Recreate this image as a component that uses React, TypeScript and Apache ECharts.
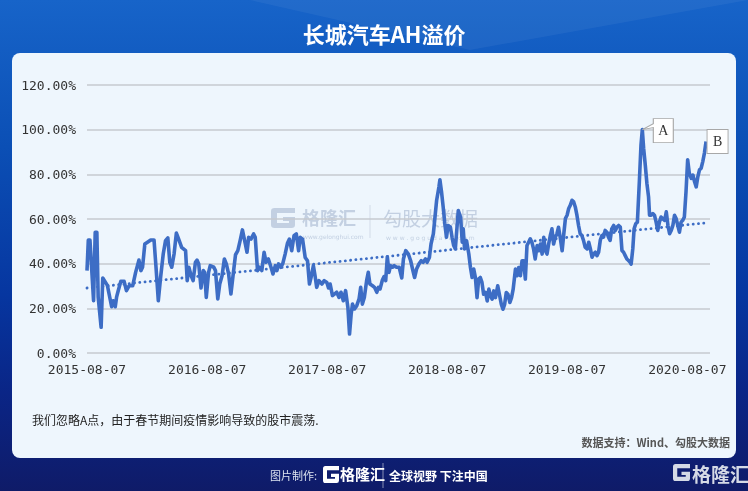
import React, { useEffect, useRef } from "react";
import * as echarts from "echarts";

const titleText = "长城汽车AH溢价";
const noteText = "我们忽略A点，由于春节期间疫情影响导致的股市震荡.";
const sourceText = "数据支持：Wind、勾股大数据";
const footerLabel = "图片制作:";
const footerSlogan = "全球视野 下注中国";
const brandName = "格隆汇";
const brandUrl = "www.gelonghui.com";
const partnerName = "勾股大数据";
const partnerUrl = "www.gogudata.com";

const startDate = "2015-08-07";
const endDate = "2020-10-15";
const xTickLabels = ["2015-08-07", "2016-08-07", "2017-08-07", "2018-08-07", "2019-08-07", "2020-08-07"];

// days after 2015-08-07
const dayOffsets = [
  0, 4, 9, 20, 25, 30, 34, 43, 48, 62, 75, 80, 86, 90, 95, 103, 113, 120, 128, 139, 148, 158, 164, 169, 176, 184, 194, 204,
  210, 217, 224, 232, 239, 246, 252, 258, 265, 272, 279, 288, 300, 305, 310, 317, 323, 330, 335, 340, 347, 354, 358, 363,
  370, 375, 386, 391, 398, 404, 411, 418, 424, 431, 438, 445, 452, 459, 466, 473,
  482, 487, 492, 499, 507, 512, 519, 525, 532, 539, 545, 552, 560, 566, 573, 578, 583, 590, 596, 603, 610, 616, 623, 630,
  637, 644, 649, 656, 664, 671, 677, 682, 689, 694, 699, 706, 715, 722, 730, 735, 740, 747, 753, 760, 767, 773, 780, 787,
  794, 799, 804, 808, 814, 821, 828, 833, 838, 844, 851, 856, 861, 869, 875, 882, 887, 892, 899, 904, 909, 914, 919, 924,
  930, 935, 942, 950, 958, 963, 970,
  978, 985, 992, 997, 1003, 1010, 1017, 1023, 1030, 1035, 1042, 1047, 1054, 1059, 1064, 1071, 1074, 1079, 1084, 1089, 1094,
  1099, 1106, 1111, 1116, 1121, 1126, 1130, 1137, 1142, 1145, 1149, 1155, 1162, 1167, 1172, 1177, 1182, 1187, 1192, 1197,
  1202, 1207, 1213, 1218, 1223, 1228, 1233, 1238, 1243, 1250, 1255, 1261, 1266, 1271, 1276, 1281, 1287, 1292, 1297, 1304,
  1309, 1314, 1319, 1324, 1329, 1334, 1339, 1344, 1349, 1354, 1359, 1364, 1370, 1375, 1380, 1385, 1390, 1395, 1400, 1405,
  1410, 1415, 1420, 1425, 1430, 1435, 1440, 1446, 1451,
  1456, 1461, 1466, 1471, 1476, 1481, 1486, 1491, 1496, 1501, 1506, 1511, 1516, 1522, 1527, 1532, 1537, 1542, 1547, 1552,
  1557, 1562, 1567, 1572, 1577, 1582, 1587, 1592, 1597, 1603, 1608, 1613, 1618, 1623, 1628, 1633, 1638, 1643, 1648, 1653,
  1656, 1661, 1665, 1670, 1675, 1681, 1686, 1690, 1694, 1699, 1704, 1709, 1712, 1717, 1722, 1727, 1732, 1737, 1742, 1747,
  1752, 1758, 1763, 1768, 1773, 1778, 1783, 1788, 1793, 1798, 1803, 1808, 1813, 1818, 1823, 1828, 1833, 1839, 1844, 1849,
  1854, 1859, 1864, 1869, 1874, 1879, 1884,
];

// AH premium, %
const premium = [
  36.9, 50.6, 50.6, 23.4, 54.0, 54.0, 25.0, 11.5, 33.6, 30.3, 20.7, 23.4, 20.7, 25.0, 27.9, 32.1, 32.1, 27.9, 30.1, 30.1,
  36.1, 41.6, 36.9, 38.4, 48.8, 49.6, 50.6, 50.6,
  38.4, 23.4, 33.9, 44.3, 50.3, 51.5, 40.6, 38.4, 44.3, 53.7, 51.0, 47.3, 45.8, 32.4, 38.4, 34.6, 32.4, 40.6, 41.6, 39.9,
  29.1, 36.9, 36.1, 24.9,
  36.1, 39.1, 38.4, 36.9, 24.2, 30.9, 34.6, 42.1, 39.9, 35.4, 26.4, 35.4, 44.0, 45.8, 50.3, 55.1,
  48.8, 45.1, 51.8, 51.0, 53.3, 51.8, 36.9, 38.4, 36.9, 45.1, 40.6, 42.1, 38.4, 35.4, 39.1, 36.9, 39.9, 38.4, 40.1, 44.3,
  49.1, 51.0, 45.8, 52.5,
  53.3, 45.8, 51.8, 51.0, 42.8, 41.3, 30.9, 33.9, 39.1, 34.6, 29.4, 32.4, 30.9, 32.4, 31.6, 29.1, 30.9, 25.7, 26.4, 27.2,
  24.9, 27.2, 23.4, 27.9,
  20.4, 8.5, 17.5, 21.9, 19.7, 21.2, 24.2, 29.4, 21.9, 24.9, 32.4, 36.1, 30.9, 30.1, 29.4, 27.2, 29.4, 28.7, 32.7, 34.2,
  32.4, 43.1, 36.1, 39.1,
  38.4, 39.1, 38.4, 38.4, 33.6, 42.1, 45.8,
  44.3, 41.3, 36.8, 33.8, 37.6, 39.8, 41.3, 40.6, 42.1, 40.6, 42.8, 48.8, 53.3, 60.8, 68.3, 74.3, 77.6, 72.1, 65.3, 57.8,
  51.8,
  57.1, 56.3, 51.8, 48.1, 46.6, 56.3, 63.8, 60.8, 49.6, 55.6, 46.6, 50.3, 44.3, 38.3, 33.8, 37.6, 33.8, 24.8, 33.1, 33.8,
  31.6, 26.3, 27.1, 23.3, 28.6, 25.6, 24.1, 27.8, 24.8, 30.1, 26.3, 21.8, 19.6, 21.8, 27.1, 26.3, 22.6, 24.8, 28.6, 37.6,
  34.6, 38.3, 34.6, 41.3, 41.3, 33.1, 48.1, 49.6, 51.1, 49.6, 46.6, 42.1, 48.1, 45.8, 48.8, 44.3, 51.8, 45.8, 44.3, 48.8,
  52.6, 55.6, 48.8, 51.8, 53.3, 56.3, 51.8, 45.8, 53.3,
  60.2, 61.7, 64.7, 66.2, 68.4, 67.7, 65.4, 61.7, 57.1, 53.4, 52.6, 50.4, 47.4, 46.6, 49.6, 46.6, 42.9, 44.4, 45.1, 43.6,
  45.1, 50.4, 52.6, 51.9, 54.9, 54.1, 51.9, 50.4, 55.6, 57.1, 54.9, 56.4, 57.1, 56.4, 45.9, 45.1, 43.6, 42.1, 41.4, 40.6,
  39.8, 46.6, 55.6, 57.9, 58.6, 76.7, 93.2, 100.0, 91.7, 84.2, 75.9, 69.9, 61.7, 61.7, 62.4, 61.7, 58.6, 54.9, 58.6, 60.9,
  60.2, 59.4, 63.2, 57.1, 53.4, 54.9, 57.1, 61.7, 60.2, 57.1, 54.1, 58.6, 59.4, 60.9, 72.2, 86.5, 80.5, 78.2, 79.7, 76.7,
  74.4, 78.9, 82.0, 82.7, 85.7, 89.5, 94.7,
];

// linear trend line end points
const trendDays = [0, 1884];
const trendValues = [29.1, 58.3];

const DAY = 86400000;
const LINE_BLUE = "#3d6dc5";
const CJK = '"Noto Sans CJK SC"';
const G_PATH = "M20 0H3Q0 0 0 3V17Q0 20 3 20H17Q20 20 20 17V9H10V13H15V15H5V5H20Z";

let registered = false;
function registerLogo() {
  if (registered) return;
  echarts.graphic.registerShape("glogo", echarts.graphic.extendPath(G_PATH, {}));
  registered = true;
}

const toTs = (s: string) => {
  const [y, m, d] = s.split("-").map(Number);
  return Date.UTC(y, m - 1, d);
};
const fmtDate = (v: number) => new Date(v).toISOString().slice(0, 10);

export default function App() {
  const ref = useRef<HTMLDivElement>(null);

  useEffect(() => {
    if (!ref.current) return;
    registerLogo();
    const chart = echarts.init(ref.current, null, { renderer: "svg", width: 748, height: 491 });
    const t0 = toTs(startDate);
    const mainData = dayOffsets.map((d, i) => [t0 + d * DAY, premium[i]]);
    const trendData = trendDays.map((d, i) => [t0 + d * DAY, trendValues[i]]);

    let maxIdx = 0;
    premium.forEach((v, i) => {
      if (v > premium[maxIdx]) maxIdx = i;
    });
    const lastIdx = premium.length - 1;

    const wmColor = "#c3d0e2";

    const option: any = {
      animation: false,
      grid: { left: 87, right: 38, top: 85, bottom: 138 },
      xAxis: {
        type: "value",
        min: t0,
        max: toTs(endDate),
        axisLine: { show: false },
        axisTick: { show: false },
        splitLine: { show: false },
        axisLabel: {
          customValues: xTickLabels.map(toTs),
          formatter: (v: number) => fmtDate(v),
          color: "#333",
          fontFamily: "DejaVu Sans Mono",
          fontSize: 13,
          margin: 10,
          hideOverlap: false,
        },
      },
      yAxis: {
        type: "value",
        min: 0,
        max: 120,
        interval: 20,
        axisLine: { show: false },
        axisTick: { show: false },
        axisLabel: {
          formatter: (v: number) => v.toFixed(2) + "%",
          color: "#333",
          fontFamily: "DejaVu Sans Mono",
          fontSize: 13,
          margin: 11,
        },
        splitLine: { lineStyle: { color: "#c6cacf", width: 1.5 } },
      },
      graphic: [
        {
          type: "rect",
          z: -20,
          silent: true,
          shape: { x: 0, y: 0, width: 748, height: 491 },
          style: {
            fill: new echarts.graphic.LinearGradient(0, 0, 0, 1, [
              { offset: 0, color: "#1764c9" },
              { offset: 0.3, color: "#0b4fb5" },
              { offset: 0.6, color: "#0636a0" },
              { offset: 0.8, color: "#0a2586" },
              { offset: 1, color: "#0f1b68" },
            ]),
          },
        },
        {
          type: "polygon",
          z: -19,
          silent: true,
          shape: { points: [[250, 0], [470, 50], [748, 0]] },
          style: { fill: "rgba(255,255,255,0.05)" },
        },
        {
          type: "rect",
          z: -18,
          silent: true,
          shape: { x: 12, y: 53, width: 724, height: 405, r: 8 },
          style: { fill: "#eef6fd" },
        },
        {
          type: "text",
          x: 384,
          y: 33,
          style: {
            text: titleText,
            fill: "#ffffff",
            font: `bold 22px ${CJK}`,
            align: "center",
            verticalAlign: "middle",
          },
        },
        // watermark
        { type: "glogo", x: 271, y: 208, scaleX: 1.2, scaleY: 1.0, z: -5, style: { fill: wmColor } },
        {
          type: "text", x: 302, y: 217, z: -5,
          style: { text: brandName, fill: wmColor, font: `bold 18px ${CJK}`, verticalAlign: "middle" },
        },
        {
          type: "text", x: 303, y: 236, z: -5,
          style: { text: brandUrl, fill: wmColor, font: `6px "DejaVu Sans"`, verticalAlign: "middle" },
        },
        { type: "line", z: -5, shape: { x1: 370, y1: 205, x2: 370, y2: 238 }, style: { stroke: "#d2dbe8", lineWidth: 1 } },
        {
          type: "text", x: 383, y: 217, z: -5,
          style: { text: partnerName, fill: wmColor, font: `19px ${CJK}`, verticalAlign: "middle" },
        },
        {
          type: "text", x: 386, y: 237, z: -5,
          style: { text: partnerUrl.split("").join(" "), fill: wmColor, font: `6px "DejaVu Sans"`, verticalAlign: "middle" },
        },
        // notes
        {
          type: "text", x: 32, y: 419,
          style: { text: noteText, fill: "#222", font: `12px ${CJK}`, verticalAlign: "middle" },
        },
        {
          type: "text", x: 730, y: 442,
          style: { text: sourceText, fill: "#555", font: `bold 11px ${CJK}`, align: "right", verticalAlign: "middle" },
        },
        // footer
        {
          type: "text", x: 270, y: 475,
          style: { text: footerLabel, fill: "#dde4f0", font: `11px ${CJK}`, verticalAlign: "middle" },
        },
        { type: "glogo", x: 323, y: 466, scaleX: 0.8, scaleY: 0.85, style: { fill: "#ffffff" } },
        {
          type: "text", x: 340, y: 473,
          style: { text: brandName, fill: "#ffffff", font: `bold 15px ${CJK}`, verticalAlign: "middle" },
        },
        { type: "line", shape: { x1: 383, y1: 463, x2: 383, y2: 488 }, style: { stroke: "rgba(255,255,255,0.5)", lineWidth: 1 } },
        {
          type: "text", x: 389, y: 475,
          style: { text: footerSlogan, fill: "#ffffff", font: `bold 12px ${CJK}`, verticalAlign: "middle" },
        },
        { type: "glogo", x: 673, y: 464, scaleX: 0.85, scaleY: 0.85, style: { fill: "#d5dae6" } },
        {
          type: "text", x: 692, y: 473,
          style: { text: brandName, fill: "#d5dae6", font: `bold 19px ${CJK}`, verticalAlign: "middle" },
        },
      ],
      series: [
        {
          type: "line",
          data: trendData,
          symbol: "none",
          silent: true,
          z: 2,
          lineStyle: { color: LINE_BLUE, width: 2.8, type: [0.1, 5.2], cap: "round" },
        },
        {
          type: "line",
          data: mainData,
          symbol: "none",
          showSymbol: false,
          z: 3,
          itemStyle: { color: LINE_BLUE },
          lineStyle: { color: LINE_BLUE, width: 3.6, join: "round" },
          markPoint: {
            silent: true,
            itemStyle: { color: "#ffffff", borderColor: "#a8a8a8", borderWidth: 1 },
            label: {
              show: true,
              color: "#333",
              fontFamily: "Liberation Serif",
              fontSize: 14,
              formatter: (p: any) => p.name,
            },
            data: [
              {
                name: "A",
                coord: mainData[maxIdx],
                symbol: "path://M0 11L11 5L11 0L31 0L31 24L11 24L11 9Z",
                symbolSize: [31, 24],
                symbolOffset: [15.5, 1],
                label: { offset: [5.5, 0] },
              },
              {
                name: "B",
                coord: mainData[lastIdx],
                symbol: "rect",
                symbolSize: [21, 24],
                symbolOffset: [11.5, 0],
              },
            ],
          },
        },
      ],
    };
    chart.setOption(option);
    return () => chart.dispose();
  }, []);

  return (
    <div style={{ position: "fixed", left: 0, top: 0, width: 748, height: 491 }}>
      <div ref={ref} style={{ width: 748, height: 491 }} />
    </div>
  );
}
